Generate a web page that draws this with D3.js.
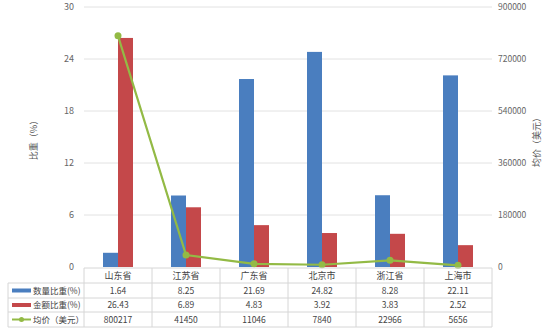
<!DOCTYPE html>
<html><head><meta charset="utf-8">
<script src="https://cdn.jsdelivr.net/npm/d3@7"></script>
<style>body{margin:0;background:#fff}svg{display:block}text{font-family:"Noto Sans CJK SC","Noto Sans",sans-serif}</style>
</head><body><svg id="c" width="550" height="332"></svg>
<script>
const categories = ["山东省","江苏省","广东省","北京市","浙江省","上海市"];
const countShare = [1.64, 8.25, 21.69, 24.82, 8.28, 22.11];
const amountShare = [26.43, 6.89, 4.83, 3.92, 3.83, 2.52];
const avgPrice = [800217, 41450, 11046, 7840, 22966, 5656];
const seriesNames = ["数量比重(%)","金额比重(%)","均价（美元）"];
const leftTicks = [0,6,12,18,24,30];
const rightTicks = [0,180000,360000,540000,720000,900000];
const colors = ["#4a7ebf","#c4484a","#93ba45"];

const svg = d3.select("#c");
const L = 84, R = 492, T = 7, B = 267;
const x = d3.scaleBand().domain(categories).range([L,R]);
const xs = d3.scaleBand().domain([0,1]).range([0,30]);
const yL = d3.scaleLinear().domain([0,30]).range([B,T]);
const yR = d3.scaleLinear().domain([0,900000]).range([B,T]);

// grid
svg.append("g").selectAll("line").data(leftTicks.slice(1)).join("line")
  .attr("x1",L).attr("x2",R).attr("y1",d=>yL(d)).attr("y2",d=>yL(d))
  .attr("stroke","#e2e2e2").attr("stroke-width",1);

// axes labels
const gl = svg.append("g").attr("transform",`translate(${L},0)`)
  .call(d3.axisLeft(yL).tickValues(leftTicks).tickSize(0).tickPadding(10));
gl.select(".domain").remove();
gl.selectAll("text").attr("fill","#666").attr("font-size",9);
const gr = svg.append("g").attr("transform",`translate(${R},0)`)
  .call(d3.axisRight(yR).tickValues(rightTicks).tickFormat(d3.format("d")).tickSize(0).tickPadding(6));
gr.select(".domain").remove();
gr.selectAll("text").attr("fill","#666").attr("font-size",8.5);

svg.append("text").attr("transform","translate(37,138) rotate(-90)")
  .attr("text-anchor","middle").attr("font-size",9).attr("fill","#555").text("比重（%）");
svg.append("text").attr("transform","translate(540,140) rotate(-90)")
  .attr("text-anchor","middle").attr("font-size",9).attr("fill","#555").text("均价（美元）");

// bars
const bw = xs.bandwidth();
[countShare, amountShare].forEach((arr,i)=>{
  svg.append("g").selectAll("rect").data(arr).join("rect")
    .attr("x",(d,j)=>x(categories[j])+x.bandwidth()/2-15+xs(i))
    .attr("width",bw).attr("y",d=>yL(d)).attr("height",d=>B-yL(d))
    .attr("fill",colors[i]);
});

// line
const line = d3.line().x((d,j)=>x(categories[j])+x.bandwidth()/2).y(d=>yR(d));
svg.append("path").datum(avgPrice).attr("d",line).attr("fill","none")
  .attr("stroke",colors[2]).attr("stroke-width",2.2);
svg.append("g").selectAll("circle").data(avgPrice).join("circle")
  .attr("cx",(d,j)=>x(categories[j])+x.bandwidth()/2).attr("cy",d=>yR(d))
  .attr("r",3.5).attr("fill",colors[2]);

// table
const rowsY = [268,283,298,312,327];
const tg = svg.append("g");
const gridC = "#d6d6d6";
tg.selectAll("line.h").data(rowsY).join("line").attr("class","h")
  .attr("x1",(d,i)=>i===0?L:8).attr("x2",R).attr("y1",d=>d).attr("y2",d=>d)
  .attr("stroke",gridC);
const vx = categories.map(c=>x(c)).concat([R]);
tg.selectAll("line.v").data(vx).join("line").attr("class","v")
  .attr("x1",d=>d).attr("x2",d=>d).attr("y1",268).attr("y2",327).attr("stroke",gridC);
tg.append("line").attr("x1",8).attr("x2",8).attr("y1",283).attr("y2",327).attr("stroke",gridC);
tg.selectAll("text.cat").data(categories).join("text").attr("class","cat")
  .attr("x",d=>x(d)+x.bandwidth()/2).attr("y",279).attr("text-anchor","middle")
  .attr("font-size",9).attr("fill","#444").text(d=>d);
const fmt = [d=>d.toFixed(2), d=>d.toFixed(2), d=>String(d)];
[countShare, amountShare, avgPrice].forEach((arr,i)=>{
  const cy = (rowsY[i+1]+rowsY[i+2])/2;
  tg.append("g").selectAll("text").data(arr).join("text")
    .attr("x",(d,j)=>x(categories[j])+x.bandwidth()/2).attr("y",cy+3)
    .attr("text-anchor","middle").attr("font-size",8.5).attr("fill","#444").text(fmt[i]);
  if(i<2){
    tg.append("rect").attr("x",12).attr("y",cy-2).attr("width",19).attr("height",4).attr("fill",colors[i]);
  } else {
    tg.append("line").attr("x1",12).attr("x2",31).attr("y1",cy).attr("y2",cy).attr("stroke",colors[2]).attr("stroke-width",2);
    tg.append("circle").attr("cx",21.5).attr("cy",cy).attr("r",2.5).attr("fill",colors[2]);
  }
  tg.append("text").attr("x",33).attr("y",cy+3).attr("font-size",8.5).attr("fill","#444").text(seriesNames[i]);
});
</script></body></html>
